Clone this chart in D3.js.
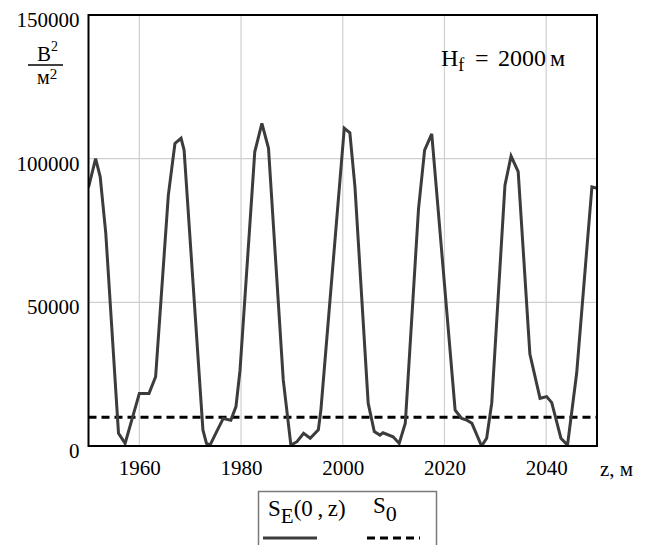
<!DOCTYPE html>
<html>
<head>
<meta charset="utf-8">
<script src="https://cdn.jsdelivr.net/npm/d3@7"></script>
<style>
  html, body { margin: 0; padding: 0; background: #fff; }
  svg text { font-family: "Liberation Serif", "Times New Roman", Times, serif !important; fill: #000; }
</style>
</head>
<body>
<svg id="chart" width="650" height="545" font-family="Liberation Serif"></svg>
<script>
const xTicks = [1960, 1980, 2000, 2020, 2040];
const yTicks = [0, 50000, 100000, 150000];
const z = [1950, 1951.4, 1952.3, 1953.4, 1955.9, 1957.2, 1960.0, 1961.9, 1963.2, 1965.7,
  1967.0, 1968.2, 1968.8, 1972.5, 1973.2, 1973.9, 1975.2, 1976.5, 1978.0, 1979.0,
  1979.8, 1982.7, 1984.1, 1985.4, 1988.3, 1989.8, 1991.0, 1992.3, 1993.6, 1995.2,
  1995.7, 2000.3, 2001.4, 2002.4, 2005.0, 2006.2, 2007.3, 2007.9, 2009.9, 2011.1,
  2012.3, 2014.9, 2016.1, 2017.5, 2022.1, 2023.4, 2024.4, 2025.4, 2027.3, 2028.3,
  2029.3, 2031.9, 2033.1, 2034.5, 2036.8, 2038.8, 2040.1, 2041.1, 2042.9, 2044.2,
  2046.0, 2049.0, 2050];
const SE = [90000, 100000, 93700, 74000, 4400, 900, 18300, 18300, 24100, 87300,
  105300, 107100, 103000, 5600, 900, 300, 5000, 9600, 9000, 13700,
  26400, 102400, 112300, 103600, 23000, 300, 1500, 4400, 2700, 5600,
  12500, 110600, 109000, 90200, 14900, 5000, 3800, 4600, 3200, 900,
  7900, 82500, 103000, 108600, 12500, 9600, 9000, 7900, 0, 2700,
  14900, 90800, 100900, 95500, 32000, 16600, 17200, 15100, 2700, 300,
  25300, 90200, 89700];
const S0 = 10000;

const svg = d3.select("#chart");
const L = 88.5, R = 597, T = 15, B = 446;
const x = d3.scaleLinear().domain([1950, 2050]).range([L, R]);
const y = d3.scaleLinear().domain([0, 150000]).range([B, T]);

// grid
const g = svg.append("g");
g.selectAll(".gx").data(xTicks).enter().append("line")
  .attr("x1", d => x(d)).attr("x2", d => x(d)).attr("y1", T).attr("y2", B)
  .attr("stroke", "#cfcfcf").attr("stroke-width", 1.2);
g.selectAll(".gy").data(yTicks.filter(d => d > 0 && d < 150000)).enter().append("line")
  .attr("x1", L).attr("x2", R).attr("y1", d => y(d)).attr("y2", d => y(d))
  .attr("stroke", "#cfcfcf").attr("stroke-width", 1.2);

// axes (labels only)
const xAxis = d3.axisBottom(x).tickValues(xTicks).tickSize(0).tickPadding(0).tickFormat(d3.format("d"));
const ax = svg.append("g").attr("transform", `translate(0,${B})`).call(xAxis)
  .attr("font-family", "Liberation Serif");
ax.select(".domain").remove();
ax.selectAll("text").attr("font-size", 21).attr("fill", "#000").attr("dy", "1.4em");

const yAxis = d3.axisLeft(y).tickValues(yTicks).tickSize(0).tickPadding(9).tickFormat(d3.format("d"));
const ay = svg.append("g").attr("transform", `translate(${L},0)`).call(yAxis)
  .attr("font-family", "Liberation Serif");
ay.select(".domain").remove();
ay.selectAll("text").attr("font-size", 21).attr("fill", "#000").attr("dy", "0.55em");

// S0 dashed line
svg.append("line")
  .attr("x1", L).attr("x2", R).attr("y1", y(S0)).attr("y2", y(S0))
  .attr("stroke", "#000").attr("stroke-width", 3).attr("stroke-dasharray", "8,5");

// SE curve
svg.append("defs").append("clipPath").attr("id", "clip")
  .append("rect").attr("x", L).attr("y", T - 5).attr("width", R - L + 2).attr("height", B - T + 6);
const line = d3.line().x((d, i) => x(z[i])).y(d => y(d));
svg.append("path").datum(SE)
  .attr("d", line).attr("fill", "none")
  .attr("stroke", "#3c3c3c").attr("stroke-width", 3).attr("stroke-linejoin", "miter")
  .attr("clip-path", "url(#clip)");

// frame
svg.append("rect").attr("x", L).attr("y", T).attr("width", R - L).attr("height", B - T)
  .attr("fill", "none").attr("stroke", "#000").attr("stroke-width", 2);

// y unit label: В²/м²
const yl = svg.append("text").attr("font-size", 21);
yl.append("tspan").attr("x", 37).attr("y", 61).text("В");
yl.append("tspan").attr("font-size", 14).attr("dy", -10).text("2");
svg.append("line").attr("x1", 28).attr("x2", 63).attr("y1", 65).attr("y2", 65)
  .attr("stroke", "#000").attr("stroke-width", 1.5);
const yl2 = svg.append("text").attr("font-size", 20);
yl2.append("tspan").attr("x", 37).attr("y", 84).text("м");
yl2.append("tspan").attr("font-size", 15).attr("dy", -5).text("2");

// x unit label
svg.append("text").attr("x", 600).attr("y", 476).attr("font-size", 21).text("z, м");

// Hf annotation
const hf = svg.append("text").attr("x", 441).attr("y", 66).attr("font-size", 24);
hf.append("tspan").text("H");
hf.append("tspan").attr("font-size", 18).attr("dy", 5).text("f");
hf.append("tspan").attr("x", 475).attr("dy", -5).text("=");
hf.append("tspan").attr("x", 498).text("2000");
hf.append("tspan").attr("x", 550).text("м");

// legend
const lg = svg.append("g");
lg.append("rect").attr("x", 258.5).attr("y", 491.5).attr("width", 178).attr("height", 70)
  .attr("fill", "#fff").attr("stroke", "#7a7a7a").attr("stroke-width", 1.5);
const t1 = lg.append("text").attr("x", 268).attr("y", 516).attr("font-size", 23);
t1.append("tspan").text("S");
t1.append("tspan").attr("font-size", 21).attr("dy", 7).text("E");
t1.append("tspan").attr("dy", -7).text("(0\u2009,\u2009z)");
const t2 = lg.append("text").attr("x", 373).attr("y", 513).attr("font-size", 23);
t2.append("tspan").text("S");
t2.append("tspan").attr("font-size", 22).attr("dy", 8).text("0");
lg.append("line").attr("x1", 263).attr("x2", 317).attr("y1", 538).attr("y2", 538)
  .attr("stroke", "#3c3c3c").attr("stroke-width", 3);
lg.append("line").attr("x1", 367).attr("x2", 420).attr("y1", 538).attr("y2", 538)
  .attr("stroke", "#000").attr("stroke-width", 3).attr("stroke-dasharray", "8,5");
</script>
</body>
</html>
